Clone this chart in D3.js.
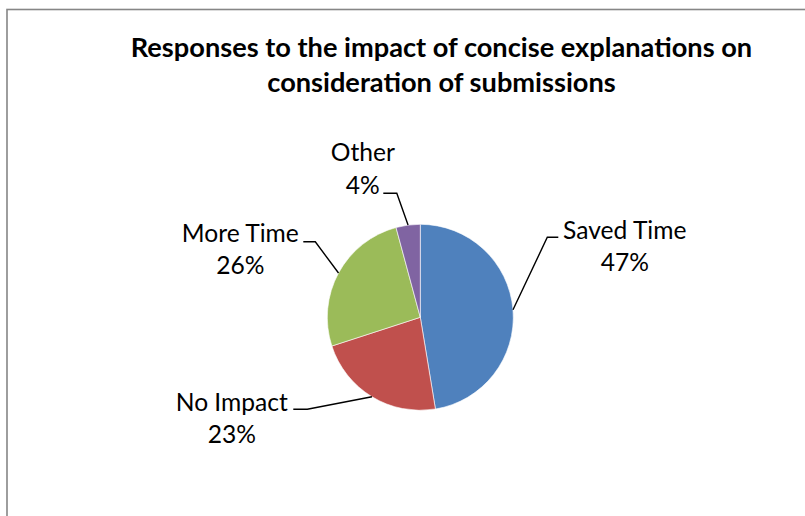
<!DOCTYPE html>
<html>
<head>
<meta charset="utf-8">
<script src="https://cdn.jsdelivr.net/npm/d3@7"></script>
<style>
  html, body { margin: 0; padding: 0; background: #fff; }
  svg { display: block; }
</style>
</head>
<body>
<script>
// ---- data ----
const titleLines = ["Responses to the impact of concise explanations on", "consideration of submissions"];
const categories = ["Saved Time", "No Impact", "More Time", "Other"];
const values = [47.4, 22.6, 25.8, 4.2];
const colors = ["#4F81BD", "#C0504D", "#9BBB59", "#8064A2"];

// ---- layout (pixel offsets from pie centre for label placement) ----
const W = 805, H = 516;
const cx = 420.3, cy = 317.3, R = 93;
const labelLayout = [
  { elbow: [127, -80],  end: [138, -80],  text: [204.5, -78.5] },
  { elbow: [-113, 92],  end: [-127, 92],  text: [-188.5, 93.5] },
  { elbow: [-105, -75.5], end: [-117, -75.5], text: [-180, -75.5] },
  { elbow: [-23.5, -124], end: [-37, -124], text: [-57.5, -156] }
];
const lineGap = 32.5;
const labelFont = "Lato, 'Open Sans', 'Liberation Sans', sans-serif";

const svg = d3.select("body").append("svg")
  .attr("width", W).attr("height", H);

// chart frame
svg.append("rect")
  .attr("x", 7).attr("y", 9.5)
  .attr("width", 900).attr("height", 600)
  .attr("fill", "#fff")
  .attr("stroke", "#868686").attr("stroke-width", 1.6);

// title
const title = svg.append("text")
  .attr("text-anchor", "middle")
  .attr("font-family", labelFont)
  .attr("font-weight", "bold")
  .attr("font-size", 27.2)
  .attr("fill", "#000");
titleLines.forEach((t, i) => {
  title.append("tspan").attr("x", 441.5).attr("y", 56.5 + i * 35).text(t);
});

// pie
const pie = d3.pie().sort(null).value(d => d).startAngle(0).endAngle(2 * Math.PI);
const arcs = pie(values);
const arc = d3.arc().innerRadius(0).outerRadius(R);
const edgeArc = d3.arc().innerRadius(R).outerRadius(R);

const g = svg.append("g").attr("transform", `translate(${cx},${cy})`);
g.selectAll("path.slice").data(arcs).join("path")
  .attr("class", "slice")
  .attr("d", arc)
  .attr("fill", (d, i) => colors[i])
  .attr("stroke", "#fff").attr("stroke-width", 0.6);

// leader lines
g.selectAll("path.leader").data(arcs).join("path")
  .attr("class", "leader")
  .attr("d", (d, i) => {
    const p = edgeArc.centroid(d);
    const L = labelLayout[i];
    return d3.line()([p, L.elbow, L.end]);
  })
  .attr("fill", "none").attr("stroke", "#000").attr("stroke-width", 1.4);

// labels
const total = d3.sum(values);
const labels = g.selectAll("text.lbl").data(arcs).join("text")
  .attr("class", "lbl")
  .attr("text-anchor", "middle")
  .attr("font-family", labelFont)
  .attr("font-size", 24.6)
  .attr("fill", "#000");
labels.each(function(d, i) {
  const L = labelLayout[i];
  const t = d3.select(this);
  t.append("tspan").attr("x", L.text[0]).attr("y", L.text[1]).text(categories[i]);
  t.append("tspan").attr("x", L.text[0]).attr("y", L.text[1] + lineGap)
    .text(Math.round(d.value / total * 100) + "%");
});
</script>
</body>
</html>
